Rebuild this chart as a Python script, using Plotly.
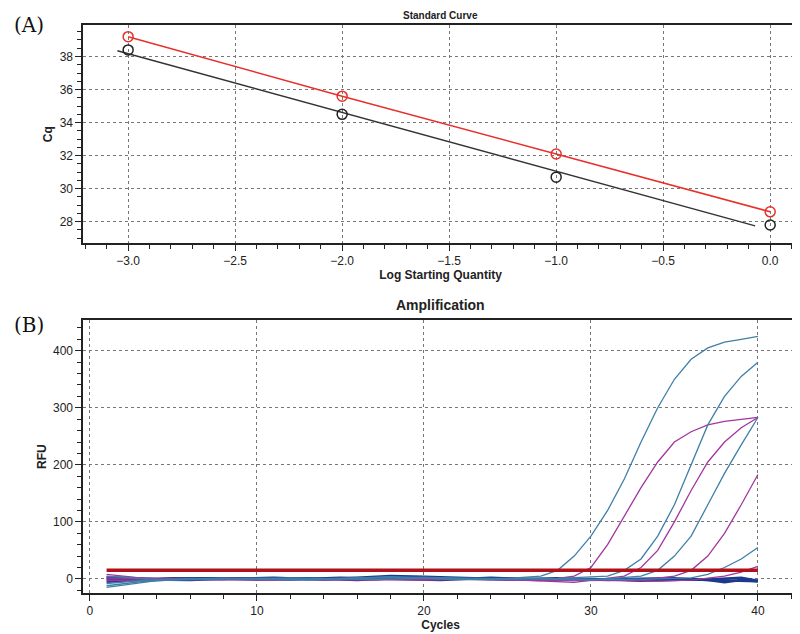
import plotly.graph_objects as go

# Standard curve data
log_qty = [-3.0, -2.0, -1.0, 0.0]
cq_black = [38.4, 34.5, 30.7, 27.8]
cq_red = [39.2, 35.6, 32.1, 28.6]
fit_black_x = [-3.05, -0.07]
fit_black_y = [38.35, 27.75]

# Amplification data (cycle, RFU)
blue_curves = [
    ([1, 3, 6, 10, 14, 18, 22, 25, 27, 28, 29, 30, 31, 32, 33, 34, 35, 36, 37, 38, 39, 40],
     [-12, -5, 0, 1, -1, 3, 0, 1, 5, 15, 40, 75, 120, 175, 240, 300, 350, 385, 405, 415, 420, 425]),
    ([1, 3, 7, 12, 16, 20, 24, 28, 31, 32, 33, 34, 35, 36, 37, 38, 39, 40],
     [-8, -3, 1, -1, 2, 3, -1, 1, 5, 15, 35, 75, 130, 200, 270, 320, 355, 380]),
    ([1, 4, 8, 12, 17, 21, 26, 30, 33, 34, 35, 36, 37, 38, 39, 40],
     [-15, -3, 0, 2, -1, 2, 0, -2, 5, 15, 40, 75, 130, 185, 235, 283]),
    ([1, 4, 9, 13, 18, 22, 27, 31, 34, 36, 37, 38, 39, 40],
     [5, -1, 1, -2, 4, -1, 1, -1, 0, 2, 8, 20, 35, 55]),
]
purple_curves = [
    ([1, 3, 6, 11, 15, 19, 23, 27, 29, 30, 31, 32, 33, 34, 35, 36, 37, 38, 39, 40],
     [8, 2, -1, -2, 1, -1, 0, -3, 5, 20, 60, 110, 160, 205, 240, 258, 270, 276, 280, 283]),
    ([1, 4, 8, 13, 17, 21, 25, 29, 32, 33, 34, 35, 36, 37, 38, 39, 40],
     [2, 0, -1, 0, -2, 1, -1, -6, 5, 20, 50, 100, 155, 205, 240, 265, 283]),
    ([1, 4, 9, 14, 19, 24, 29, 33, 35, 36, 37, 38, 39, 40],
     [-3, -1, 1, -2, 0, -1, -3, -2, 5, 15, 40, 80, 130, 183]),
    ([1, 5, 10, 15, 20, 25, 30, 34, 36, 38, 39, 40],
     [0, 1, -1, 0, -2, 1, -1, -4, -2, 5, 12, 22]),
]
navy_curves = [
    ([1, 3, 5, 8, 11, 14, 17, 18, 20, 23, 26, 29, 32, 35, 37, 38, 39, 40],
     [-5, -2, 1, 0, 2, -1, 3, 5, 4, 1, 0, -1, 0, 1, -2, -6, -2, -4]),
    ([1, 3, 6, 9, 12, 15, 18, 21, 24, 27, 30, 33, 36, 38, 40],
     [0, -1, -2, 1, -1, 2, 0, -2, 2, -1, 0, -3, -1, -3, -4]),
    ([1, 4, 7, 10, 13, 16, 19, 22, 25, 28, 31, 34, 37, 39, 40],
     [3, 0, 1, -1, 1, -2, 2, 0, -1, 1, -2, 0, -1, 2, -3]),
]
threshold_x = [1, 40]
threshold_y = [15, 15]

fig = go.Figure()

fig.add_trace(go.Scatter(x=log_qty, y=cq_red, mode="lines+markers",
                         line=dict(color="#e8302a", width=1.5),
                         marker=dict(symbol="circle-open", size=10, color="#e8302a", line=dict(width=1.5)),
                         xaxis="x", yaxis="y"))
fig.add_trace(go.Scatter(x=fit_black_x, y=fit_black_y, mode="lines",
                         line=dict(color="#333333", width=1.5), xaxis="x", yaxis="y"))
fig.add_trace(go.Scatter(x=log_qty, y=cq_black, mode="markers",
                         marker=dict(symbol="circle-open", size=10, color="#222222", line=dict(width=1.5)),
                         xaxis="x", yaxis="y"))

for xs, ys in navy_curves:
    fig.add_trace(go.Scatter(x=xs, y=ys, mode="lines", line=dict(color="#1c3a8c", width=2.5),
                             xaxis="x2", yaxis="y2"))
for xs, ys in purple_curves:
    fig.add_trace(go.Scatter(x=xs, y=ys, mode="lines", line=dict(color="#a0379e", width=1.3),
                             xaxis="x2", yaxis="y2"))
for xs, ys in blue_curves:
    fig.add_trace(go.Scatter(x=xs, y=ys, mode="lines", line=dict(color="#3f7fa8", width=1.3),
                             xaxis="x2", yaxis="y2"))
fig.add_trace(go.Scatter(x=threshold_x, y=threshold_y, mode="lines",
                         line=dict(color="#b0101a", width=3.5), xaxis="x2", yaxis="y2"))

font = dict(family="Liberation Sans, Arial", size=12, color="#222")
grid = dict(showgrid=True, gridcolor="#777", griddash="dot", gridwidth=1.2,
            showline=True, linecolor="#222", linewidth=1.5, mirror=True,
            ticks="outside", ticklen=6, tickcolor="#222", zeroline=False,
            tickfont=font)

fig.update_layout(
    width=800, height=634, showlegend=False,
    paper_bgcolor="white", plot_bgcolor="white",
    margin=dict(l=0, r=0, t=0, b=0),
    xaxis=dict(domain=[0.094, 0.9875], anchor="y", range=[-3.21, 0.13], dtick=0.5,
               tickformat=".1f", minor=dict(ticks="outside", ticklen=4, dtick=0.1, showgrid=False),
               title=dict(text="<b>Log Starting Quantity</b>", font=font, standoff=0), **grid),
    yaxis=dict(domain=[0.629, 0.973], anchor="x", range=[26.7, 39.9], dtick=2,
               minor=dict(ticks="outside", ticklen=4, dtick=0.5, showgrid=False),
               title=dict(text="<b>Cq</b>", font=font, standoff=4), **grid),
    xaxis2=dict(domain=[0.094, 0.9875], anchor="y2", range=[-0.4, 42.4], dtick=10,
                minor=dict(ticks="outside", ticklen=4, dtick=2, showgrid=False),
                title=dict(text="<b>Cycles</b>", font=font, standoff=0), **grid),
    yaxis2=dict(domain=[0.077, 0.508], anchor="x2", range=[-25, 454], dtick=100,
                minor=dict(ticks="outside", ticklen=4, dtick=20, showgrid=False),
                title=dict(text="<b>RFU</b>", font=font, standoff=4), **grid),
    annotations=[
        dict(text="<b>Standard Curve</b>", x=0.54, y=1.0, xref="paper", yref="paper",
             xanchor="center", yanchor="top", showarrow=False,
             font=dict(family="Liberation Sans, Arial", size=10, color="#222")),
        dict(text="<b>Amplification</b>", x=0.54, y=0.532, xref="paper", yref="paper",
             xanchor="center", yanchor="middle", showarrow=False,
             font=dict(family="Liberation Sans, Arial", size=14, color="#222")),
        dict(text="(A)", x=0.005, y=0.995, xref="paper", yref="paper",
             xanchor="left", yanchor="top", showarrow=False,
             font=dict(family="DejaVu Serif, Liberation Serif", size=20, color="#111")),
        dict(text="(B)", x=0.005, y=0.522, xref="paper", yref="paper",
             xanchor="left", yanchor="top", showarrow=False,
             font=dict(family="DejaVu Serif, Liberation Serif", size=20, color="#111")),
    ],
)

fig.write_html("out.html")
